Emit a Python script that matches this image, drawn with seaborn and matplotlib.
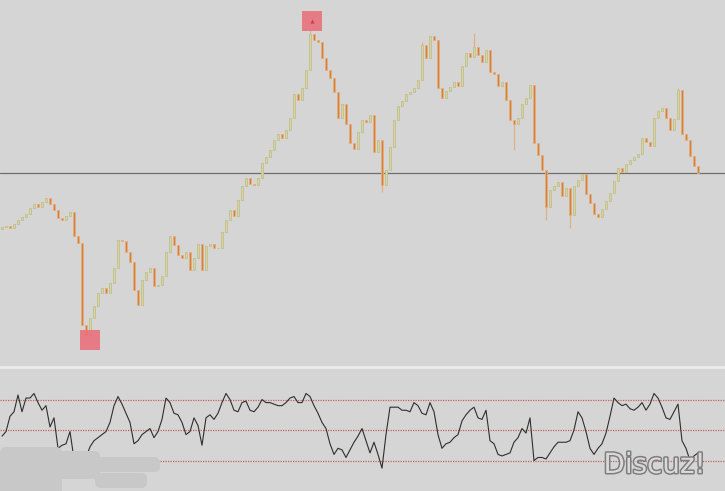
import numpy as np
import pandas as pd
import seaborn as sns
import matplotlib.pyplot as plt
import matplotlib.patheffects as pe
from matplotlib.patches import FancyBboxPatch
from matplotlib.transforms import offset_copy

# closing prices (one per candle)
closes = [
    153, 154, 152, 156, 160, 163, 166, 172, 176, 173,
    178, 182, 176, 170, 162, 160, 164, 168, 144, 137,
    55, 45, 62, 74, 87, 92, 87, 97, 112, 140,
    139, 128, 118, 90, 75, 100, 108, 112, 94, 95,
    104, 128, 144, 135, 125, 122, 128, 110, 122, 136,
    110, 134, 136, 132, 132, 148, 160, 170, 164, 180,
    194, 202, 196, 195, 202, 217, 223, 230, 240, 246,
    242, 250, 262, 286, 280, 292, 310, 346, 340, 338,
    322, 310, 302, 288, 262, 276, 256, 237, 231, 248,
    260, 258, 265, 228, 240, 195, 210, 233, 260, 274,
    279, 286, 288, 292, 300, 335, 322, 344, 340, 292,
    282, 289, 293, 298, 294, 314, 327, 323, 333, 325,
    318, 330, 308, 306, 294, 298, 280, 260, 256, 262,
    276, 282, 295, 237, 225, 210, 173, 190, 194, 198,
    184, 192, 165, 194, 200, 206, 186, 177, 166, 163,
    171, 179, 187, 199, 212, 208, 216, 220, 223, 226,
    242, 238, 234, 262, 269, 272, 262, 250, 261, 290,
    246, 240, 224, 214, 207,
]
first_open = 151

# visible wick extremes (candle index -> price)
high_wicks = {77: 350, 105: 338, 118: 347, 169: 292}
low_wicks = {21: 40, 95: 188, 128: 230, 136: 160, 142: 152}

# oscillator panel (0-100 scale), with its three reference levels
osc = [
    46, 49, 59, 62, 73, 62, 71, 71, 74, 68,
    63, 66, 52, 58, 38, 40, 41, 49, 31, 25,
    26, 32, 39, 43, 45, 47, 49, 55, 66, 72,
    67, 61, 55, 41, 43, 47, 49, 51, 45, 49,
    57, 71, 68, 61, 60, 55, 47, 49, 58, 53,
    40, 58, 60, 57, 61, 68, 74, 70, 63, 62,
    68, 69, 63, 62, 65, 70, 68, 68, 67, 66,
    66, 68, 71, 72, 68, 68, 74, 72, 66, 61,
    55, 51, 41, 34, 38, 37, 32, 37, 42, 46,
    51, 43, 35, 42, 34, 25, 47, 65, 65, 65,
    63, 63, 62, 68, 66, 61, 60, 68, 62, 47,
    38, 41, 42, 45, 47, 56, 60, 63, 65, 58,
    57, 63, 43, 41, 34, 33, 34, 35, 42, 45,
    51, 48, 58, 30, 32, 32, 31, 35, 39, 42,
    42, 42, 43, 50, 62, 58, 49, 38, 34, 38,
    41, 48, 59, 71, 68, 66, 67, 64, 63, 65,
    68, 63, 67, 74, 71, 65, 58, 57, 62, 67,
    43, 38, 30, 33, 35,
]
levels = [30, 50, 70]

bg = '#d5d5d5'
up_face, up_edge = '#d9d3a4', '#bfc08a'
dn_face, dn_edge = '#d4803c', '#e6ad7c'

sns.set_style('white', {'axes.facecolor': bg, 'figure.facecolor': bg})

fig = plt.figure(figsize=(7.25, 4.91), dpi=100)
ax = fig.add_axes([0, 126 / 491, 1, 365 / 491])
ax2 = fig.add_axes([0, 0, 1, 121 / 491])

df = pd.DataFrame({'close': closes})
df['open'] = [first_open] + closes[:-1]
df['idx'] = np.arange(len(df))
df['up'] = df['close'] >= df['open']

# candles
for is_up, face, edge in [(True, up_face, up_edge), (False, dn_face, dn_edge)]:
    part = df[df['up'] == is_up]
    ax.bar(part['idx'], part['close'] - part['open'], bottom=part['open'],
           width=0.6, color=face, edgecolor=edge, linewidth=0.6, zorder=3)

for i, hi in high_wicks.items():
    top = max(df.loc[i, 'open'], df.loc[i, 'close'])
    ax.vlines(i, top, hi, color=dn_edge, lw=0.8, zorder=2)
for i, lo in low_wicks.items():
    bot = min(df.loc[i, 'open'], df.loc[i, 'close'])
    ax.vlines(i, lo, bot, color=dn_edge, lw=0.8, zorder=2)

# last price line
ax.axhline(closes[-1], color='#6e6e6e', lw=0.9, zorder=1)

# extreme markers
i_hi = max(high_wicks, key=high_wicks.get)
i_lo = min(low_wicks, key=low_wicks.get)
tr_hi = offset_copy(ax.transData, fig=fig, x=1.5, y=6.5, units='points')
tr_lo = offset_copy(ax.transData, fig=fig, x=3, y=0, units='points')
ax.plot(i_hi, high_wicks[i_hi], marker='s', ms=14.5, color='#ea717d',
        alpha=0.9, mew=0, transform=tr_hi, zorder=5)
ax.plot(i_hi, high_wicks[i_hi], marker='^', ms=3, color='#c8404c',
        mew=0, transform=tr_hi, zorder=6)
ax.plot(i_lo, low_wicks[i_lo], marker='s', ms=14.5, color='#ea717d',
        alpha=0.9, mew=0, transform=tr_lo, zorder=5)

ax.set_xlim(-0.5, 180.75)
ax.set_ylim(15, 380)

# oscillator
odf = pd.DataFrame({'idx': np.arange(len(osc)), 'osc': osc})
for lv in levels:
    ax2.axhline(lv, color='#c26060', lw=0.9, ls=(0, (1, 1)), zorder=1)
sns.lineplot(data=odf, x='idx', y='osc', ax=ax2, color='#2e2e2e', lw=0.8, zorder=3)
ax2.set_xlim(-0.5, 180.75)
ax2.set_ylim(10, 89.4)

for a in (ax, ax2):
    a.set_facecolor(bg)
    a.set_xticks([])
    a.set_yticks([])
    a.set_xlabel('')
    a.set_ylabel('')
    for s in a.spines.values():
        s.set_visible(False)

# panel separator
fig.add_artist(plt.Line2D([0, 1], [1 - 367 / 491] * 2, color='#ececec', lw=2,
                          transform=fig.transFigure))

# grey smudge in the lower left
for x0, y0, w, h in [(0, -10, 62, 54), (30, 19, 130, 15), (95, 3, 52, 15), (0, 12, 100, 28)]:
    fig.patches.append(FancyBboxPatch((x0, y0), w, h, boxstyle='round,pad=0,rounding_size=6',
                                      transform=None, color='#c8c8c8', lw=0, zorder=10))

# watermark
fig.text(0.903, 0.053, 'Discuz!', ha='center', va='center', fontsize=20,
         color='#dadada', zorder=11,
         path_effects=[pe.Stroke(linewidth=2.2, foreground='#7e7e7e'), pe.Normal()])

fig.savefig('out.png', dpi=100, facecolor=bg)
